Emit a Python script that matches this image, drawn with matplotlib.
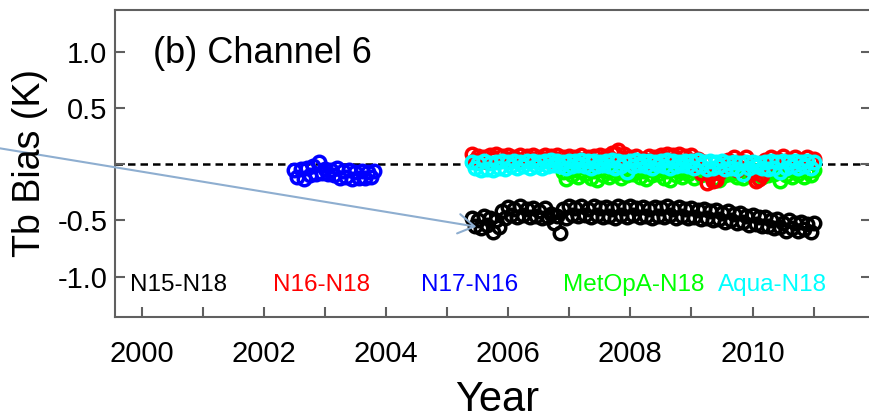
import numpy as np
import matplotlib
matplotlib.use("Agg")
import matplotlib.pyplot as plt

plt.rcParams['font.family'] = ['Liberation Sans', 'DejaVu Sans']

# Tb bias for channel 6, sampled every 0.1 yr; "hi"/"lo" are the upper and
# lower edge of the scatter, the lo row sits half a step later
black_start = 2005.4
black_hi = [-0.48, -0.50, -0.46, -0.48, -0.50, -0.42, -0.38, -0.40, -0.37, -0.40,
            -0.39, -0.42, -0.39, -0.44, -0.46, -0.40, -0.37, -0.39, -0.37, -0.40,
            -0.37, -0.39, -0.38, -0.40, -0.37, -0.39, -0.37, -0.39, -0.38, -0.40,
            -0.38, -0.39, -0.37, -0.40, -0.38, -0.40, -0.39, -0.41, -0.40, -0.42,
            -0.41, -0.43, -0.42, -0.44, -0.43, -0.46, -0.45, -0.47, -0.47, -0.50,
            -0.49, -0.52, -0.50, -0.52, -0.51, -0.53, -0.52]
black_lo = [-0.55, -0.57, -0.54, -0.60, -0.56, -0.48, -0.45, -0.47, -0.45, -0.47,
            -0.46, -0.48, -0.47, -0.52, -0.61, -0.48, -0.45, -0.46, -0.45, -0.47,
            -0.45, -0.47, -0.46, -0.48, -0.45, -0.47, -0.45, -0.47, -0.46, -0.48,
            -0.46, -0.47, -0.45, -0.48, -0.46, -0.48, -0.47, -0.49, -0.48, -0.50,
            -0.49, -0.51, -0.50, -0.52, -0.51, -0.54, -0.53, -0.55, -0.55, -0.57,
            -0.56, -0.59, -0.57, -0.59, -0.58, -0.60]

red_start = 2005.4
red_hi = [0.09, 0.07, 0.06, 0.08, 0.09, 0.07, 0.08, 0.06, 0.08, 0.07,
          0.08, 0.06, 0.08, 0.07, 0.08, 0.06, 0.07, 0.06, 0.08, 0.06,
          0.07, 0.08, 0.07, 0.10, 0.13, 0.09, 0.06, 0.07, 0.05, 0.07,
          0.06, 0.08, 0.09, 0.08, 0.09, 0.07, 0.08, 0.05, 0.02, -0.10,
          -0.14, -0.02, 0.04, 0.06, 0.03, 0.06, -0.08, -0.13, 0.04, 0.06,
          0.05, 0.07, 0.04, 0.06, 0.04, 0.06, 0.05]
red_lo = [0.04, 0.03, 0.02, 0.05, 0.03, 0.04, 0.03, 0.04, 0.03, 0.04,
          0.03, 0.04, 0.03, 0.04, 0.03, 0.04, 0.03, 0.04, 0.03, 0.02,
          0.03, 0.04, 0.06, 0.10, 0.05, 0.03, 0.02, 0.03, 0.02, 0.03,
          0.04, 0.05, 0.04, 0.05, 0.03, 0.04, 0.00, -0.08, -0.17, -0.15,
          -0.08, 0.00, 0.02, -0.05, 0.02, -0.03, -0.15, -0.10, 0.01, 0.03,
          0.02, 0.03, 0.01, 0.03, 0.02, 0.03]

blue_start = 2002.5
blue_hi = [-0.05, -0.04, -0.03, -0.02, 0.02, -0.04, -0.05, -0.03, -0.06, -0.05,
           -0.07, -0.06, -0.07, -0.06]
blue_lo = [-0.11, -0.13, -0.10, -0.09, -0.08, -0.09, -0.10, -0.12, -0.11, -0.13,
           -0.12, -0.12, -0.11]

green_start = 2006.9
green_hi = [-0.07, -0.06, -0.05, -0.06, -0.05, -0.06, -0.05, -0.06, -0.05, -0.06,
            -0.05, -0.06, -0.05, -0.06, -0.05, -0.06, -0.05, -0.06, -0.05, -0.06,
            -0.06, -0.05, -0.06, -0.05, -0.06, -0.05, -0.06, -0.05, -0.06, -0.05,
            -0.06, -0.05, -0.06, -0.05, -0.06, -0.05, -0.06, -0.05, -0.06, -0.05,
            -0.06, -0.05]
green_lo = [-0.13, -0.10, -0.11, -0.09, -0.12, -0.14, -0.10, -0.11, -0.09, -0.12,
            -0.10, -0.09, -0.11, -0.13, -0.10, -0.09, -0.12, -0.14, -0.10, -0.11,
            -0.09, -0.12, -0.10, -0.09, -0.13, -0.14, -0.10, -0.09, -0.11, -0.12,
            -0.10, -0.09, -0.11, -0.10, -0.09, -0.15, -0.10, -0.11, -0.09, -0.11,
            -0.10]

cyan_start = 2005.4
cyan_hi = [0.02, 0.01, 0.03, 0.01, 0.02, 0.03, 0.02, 0.03, 0.02, 0.03,
           0.03, 0.02, 0.03, 0.04, 0.03, 0.02, 0.03, 0.03, 0.04, 0.03,
           0.03, 0.02, 0.03, 0.04, 0.03, 0.02, 0.03, 0.04, 0.03, 0.03,
           0.02, 0.03, 0.04, 0.03, 0.02, 0.03, 0.03, 0.04, 0.02, 0.03,
           0.02, 0.03, 0.01, 0.02, 0.01, 0.02, 0.02, 0.01, 0.02, 0.03,
           0.02, 0.03, 0.02, 0.03, 0.02, 0.03, 0.02]
cyan_lo = [-0.03, -0.05, -0.04, -0.05, -0.03, -0.04, -0.02, -0.03, -0.02, -0.03,
           -0.02, -0.03, -0.02, -0.01, -0.02, -0.03, -0.02, -0.01, -0.02, -0.03,
           -0.02, -0.01, -0.02, -0.03, -0.02, -0.07, -0.02, -0.01, -0.02, -0.03,
           -0.01, -0.02, -0.03, -0.02, -0.01, -0.02, -0.03, -0.02, -0.04, -0.03,
           -0.02, -0.04, -0.03, -0.04, -0.09, -0.03, -0.02, -0.03, -0.04, -0.03,
           -0.07, -0.03, -0.02, -0.03, -0.02, -0.03]

pair_names = ['N15-N18', 'N16-N18', 'N17-N16', 'MetOpA-N18', 'Aqua-N18']
pair_colors = ['black', '#ff0000', '#0000ff', '#00ff00', '#00ffff']
pair_label_x = [1999.81, 2002.15, 2004.58, 2006.9, 2009.44]

year_ticks = list(range(2000, 2012))
bias_ticks = [-1.0, -0.5, 0.0, 0.5, 1.0]
bias_ticklabels = ['-1.0', '-0.5', '', '0.5', '1.0']


def years_for(start, vals):
    return np.round(start + 0.1 * np.arange(len(vals)), 2)


fig = plt.figure(figsize=(8.69, 4.15), dpi=100)
ax = fig.add_axes([115 / 869, 98.3 / 415, 756 / 869, 306.7 / 415])

ax.axhline(0, color='black', lw=1.8, dashes=(3, 2), zorder=1)

series = [(black_start, black_hi, black_lo, 'black'),
          (blue_start, blue_hi, blue_lo, '#0000ff'),
          (green_start, green_hi, green_lo, '#00ff00'),
          (red_start, red_hi, red_lo, '#ff0000'),
          (cyan_start, cyan_hi, cyan_lo, '#00ffff')]
for start, hi, lo, col in series:
    x = np.concatenate([years_for(start, hi), years_for(start + 0.05, lo)])
    y = np.concatenate([hi, lo])
    ax.plot(x, y, 'o', mfc='none', mec=col, ms=9, mew=2.5, zorder=2)

for name, col, x in zip(pair_names, pair_colors, pair_label_x):
    ax.text(x, -1.074, name, color=col, fontsize=17.5, ha='left', va='center')

ax.text(2000.18, 0.98, '(b) Channel 6', fontsize=26, ha='left', va='center')

ax.set_xlim(1999.563, 2011.94)
ax.set_ylim(-1.356, 1.371)
ax.set_xticks(year_ticks)
ax.set_xticklabels([str(y) if y % 2 == 0 else '' for y in year_ticks])
ax.set_yticks(bias_ticks)
ax.set_yticklabels(bias_ticklabels)

for s in ax.spines.values():
    s.set_color('#606060')
    s.set_linewidth(1.5)
ax.tick_params(axis='both', direction='in', length=7, width=1.5,
               color='#606060', labelsize=21)
ax.tick_params(axis='x', pad=16.5, top=False)
ax.tick_params(axis='y', pad=5.5, right=True)

fig.text(30.5 / 869, 1 - 163.3 / 415, 'Tb Bias (K)', rotation=90,
         ha='center', va='center', fontsize=27)
fig.text(497 / 869, 4 / 415, 'Year', ha='center', va='baseline', fontsize=30)

# pointer coming in from the left edge
ax.annotate('', xy=(2005.48, -0.556), xycoords='data',
            xytext=(-0.01, 0.646), textcoords='figure fraction',
            arrowprops=dict(arrowstyle='->,head_length=1.15,head_width=0.7',
                            color='#8eaed0', lw=1.5, mutation_scale=10,
                            shrinkA=0, shrinkB=0),
            annotation_clip=False, zorder=5)

fig.savefig('out.png', dpi=100)
